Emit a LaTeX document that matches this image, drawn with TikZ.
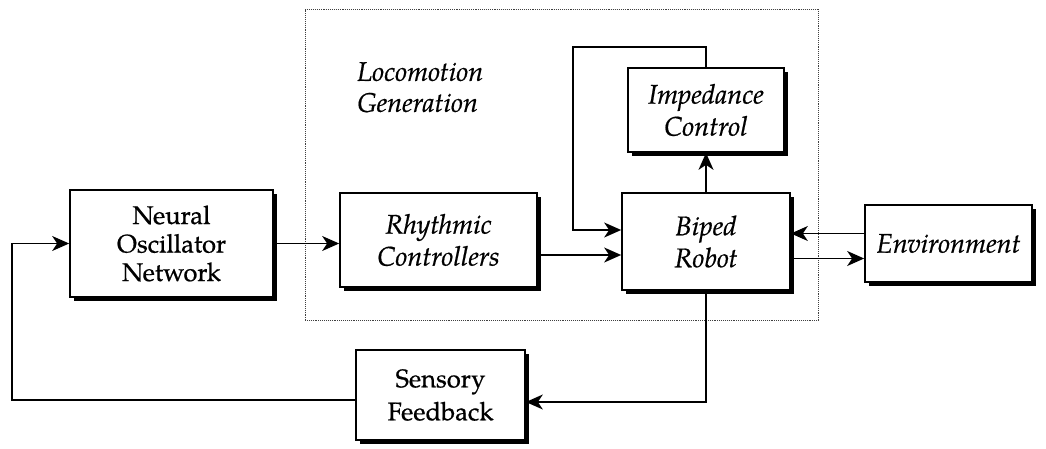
\documentclass[tikz,border=0pt]{standalone}
\usepackage{fontspec}
\setmainfont[FakeBold=0.6]{TeX Gyre Pagella}
\usetikzlibrary{arrows.meta,shadows}

\tikzset{
  block/.style={draw=black, line width=1.7pt, fill=white, inner sep=0pt,
    align=center, font=\fontsize{25.5}{28.5}\selectfont,
    drop shadow={shadow xshift=4pt, shadow yshift=-4pt, fill=black, opacity=1}},
  iblock/.style={block, font=\fontsize{27}{32}\selectfont\itshape},
  arr/.style={line width=1.5pt, -{Stealth[length=17pt, width=15pt, inset=5pt]}},
  frame/.style={draw=black!75, line width=0.9pt, densely dotted, inner sep=0pt}
}

\begin{document}
\begin{tikzpicture}[x=1pt, y=-1pt]
  \useasboundingbox (0,0) rectangle (1046,449);

  % dotted region enclosing the locomotion generator
  \node[frame, minimum width=513pt, minimum height=311pt] (region) at (561.5,164.5) {};
  \node[anchor=north west, align=left, inner sep=0pt,
        font=\fontsize{27}{31}\selectfont\itshape] (lg) at (357,62) {Locomotion\\Generation};

  % blocks
  \node[block, minimum width=203pt, minimum height=107pt] (nn) at (171.5,243.5) {Neural\\Oscillator\\Network};
  \node[iblock, minimum width=197pt, minimum height=94pt] (rc) at (438.5,240) {Rhythmic\\Controllers};
  \node[iblock, minimum width=168pt, minimum height=97pt] (br) at (706,241.5) {Biped\\Robot};
  \node[iblock, minimum width=156pt, minimum height=84pt] (ic) at (706,110) {Impedance\\Control};
  \node[iblock, minimum width=167pt, minimum height=77pt] (env) at (948.5,243.5) {Environment};
  \node[block, minimum width=169pt, minimum height=90pt,
        font=\fontsize{25.5}{33}\selectfont] (sf) at (440.5,395) {Sensory\\Feedback};

  % helper points for the outer loops
  \coordinate (lt) at (573,47);
  \coordinate (fb) at (12,300);

  % connectors
  \draw[arr] (nn.east) -- (nn.east -| rc.west);
  \draw[arr] ([yshift=-15pt]rc.east) -- ([yshift=-15pt]rc.east -| br.west);
  \draw[arr] (ic.north) |- (lt) |- ([yshift=11.5pt]br.west);
  \draw[arr] (br.north) -- (ic.south);
  \draw[arr] ([yshift=10pt]env.west) -- ([yshift=10pt]env.west -| br.east);
  \draw[arr] ([yshift=-17pt]br.east) -- ([yshift=-17pt]br.east -| env.west);
  \draw[arr] (br.south) |- ([yshift=-7pt]sf.east);
  \draw[arr] ([yshift=-5pt]sf.west) -| (fb) |- (nn.west);
\end{tikzpicture}
\end{document}
